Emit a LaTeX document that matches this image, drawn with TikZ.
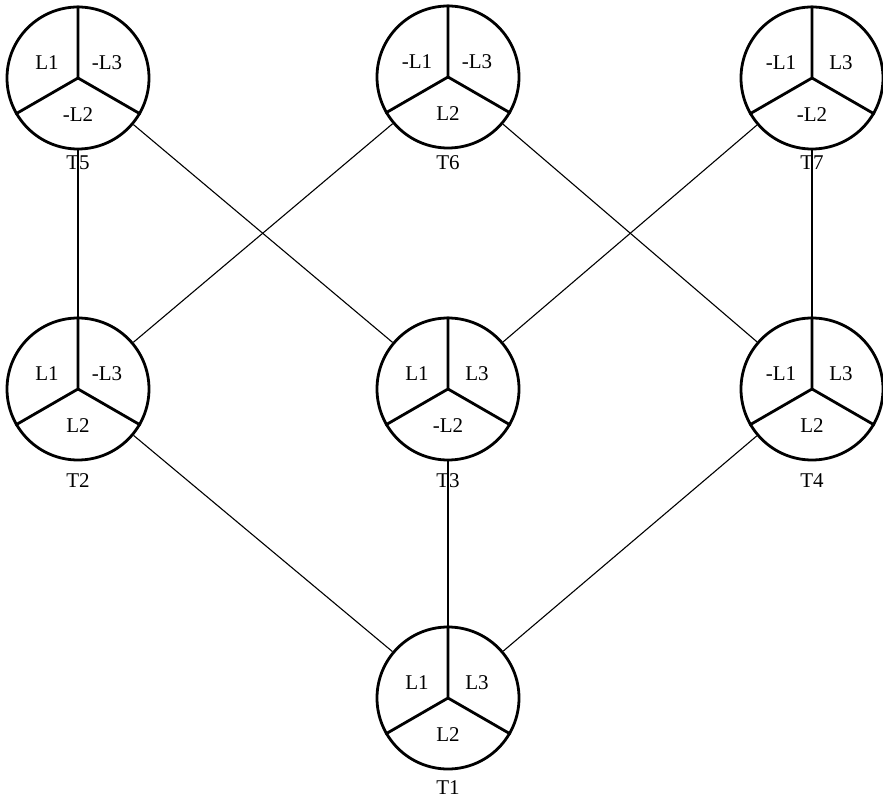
\documentclass[tikz,border=0pt]{standalone}
\usepackage{fontspec}
\setmainfont{Liberation Serif}
\usetikzlibrary{calc}

\tikzset{
  wheel/.style={circle, draw, line width=2.8pt, minimum size=142pt, inner sep=0pt},
  spoke/.style={line width=2.8pt},
  link/.style={line width=1.1pt},
  lab/.style={font=\fontsize{21}{24}\selectfont, inner sep=0pt},
}

% #1 name, #2 x, #3 y, #4 left sector, #5 right sector, #6 lower sector,
% #7 caption text, #8 caption y
\newcommand{\wheelnode}[8]{%
  \node[wheel] (#1) at (#2,#3) {};
  \draw[spoke] (#1.center) -- (#1.90)
               (#1.center) -- (#1.210)
               (#1.center) -- (#1.330);
  \node[lab] (#1-l) at ($(#1.center)+(-31,-15)$) {#4};
  \node[lab] (#1-r) at ($(#1.center)+(29,-15)$) {#5};
  \node[lab] (#1-b) at ($(#1.center)+(0,37)$) {#6};
  \node[lab] (#1-cap) at (#2,#8) {#7};
}

\begin{document}
\begin{tikzpicture}[x=1pt, y=-1pt]
  \fill[white] (0,0) rectangle (883,799);
  \useasboundingbox (0,0) rectangle (883,799);

  % top row
  \wheelnode{t5}{78}{78}{L1}{-L3}{-L2}{T5}{163}
  \wheelnode{t6}{448}{77}{-L1}{-L3}{L2}{T6}{163}
  \wheelnode{t7}{812}{78}{-L1}{L3}{-L2}{T7}{163}
  % middle row
  \wheelnode{t2}{78}{389}{L1}{-L3}{L2}{T2}{481}
  \wheelnode{t3}{448}{389}{L1}{L3}{-L2}{T3}{481}
  \wheelnode{t4}{812}{389}{-L1}{L3}{L2}{T4}{481}
  % bottom
  \wheelnode{t1}{448}{698}{L1}{L3}{L2}{T1}{788}

  % connections
  \draw[link] (t5) -- (t2);
  \draw[link] (t5) -- (t3);
  \draw[link] (t6) -- (t2);
  \draw[link] (t6) -- (t4);
  \draw[link] (t7) -- (t3);
  \draw[link] (t7) -- (t4);
  \draw[link] (t2) -- (t1);
  \draw[link] (t3) -- (t1);
  \draw[link] (t4) -- (t1);
\end{tikzpicture}
\end{document}
